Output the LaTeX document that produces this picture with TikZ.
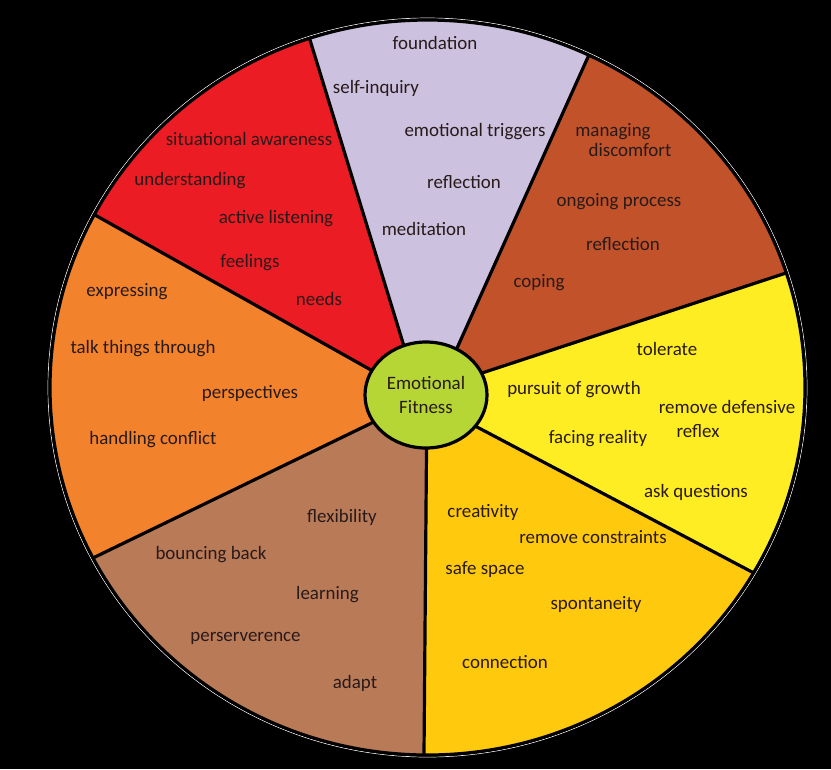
\documentclass[tikz,border=0pt]{standalone}
\usepackage{fontspec}
\setmainfont{Carlito}
\usetikzlibrary{calc,shapes.geometric}
\definecolor{lavender}{RGB}{204,193,222}
\definecolor{rustred}{RGB}{193,82,41}
\definecolor{sunyellow}{RGB}{255,237,36}
\definecolor{goldyellow}{RGB}{255,201,14}
\definecolor{clay}{RGB}{185,122,87}
\definecolor{tangerine}{RGB}{243,130,45}
\definecolor{signalred}{RGB}{236,28,36}
\definecolor{limegreen}{RGB}{181,214,52}
\definecolor{inktext}{RGB}{40,26,26}

\begin{document}
\begin{tikzpicture}[x=0.75pt,y=-0.75pt,
  word/.style={font=\fontsize{14.2}{17.5}\selectfont,text=inktext,inner sep=0pt,
               text height=10.8pt,text depth=0.8pt},
  spoke/.style={line width=2.4pt},
  hubnode/.style={ellipse,draw,line width=2.4pt,fill=limegreen,minimum width=91.5pt,
                  minimum height=79.5pt,align=center,inner sep=0pt,text=inktext,
                  font=\fontsize{14.2}{17.5}\selectfont}
]
  % background
  \fill[black] (0,0) rectangle (831,769);
  \coordinate (c) at (427.5,387.5);
  \coordinate (hubc) at (426,395);

  % spokes: rim end and hub end
  \coordinate (o1) at (310,40);    \coordinate (i1) at (407.4,357.3);
  \coordinate (o2) at (588,57);    \coordinate (i2) at (451.8,359.7);
  \coordinate (o3) at (783,274);   \coordinate (i3) at (467.7,377.7);
  \coordinate (o4) at (752,572);   \coordinate (i4) at (463.7,420);
  \coordinate (o5) at (424,754);   \coordinate (i5) at (426.7,426);
  \coordinate (o6) at (95,557);    \coordinate (i6) at (387.1,415.5);
  \coordinate (o7) at (95,215);    \coordinate (i7) at (384.1,377.4);

  % sectors
  \begin{scope}
    \clip (c) ellipse [x radius=377.5, y radius=367.5];
    \foreach \a/\b/\col in {1/2/lavender,2/3/rustred,3/4/sunyellow,4/5/goldyellow,
                            5/6/clay,6/7/tangerine,7/1/signalred}
      \fill[\col] (hubc) -- (i\a) -- ($(i\a)!1.6!(o\a)$) -- ($(i\b)!1.6!(o\b)$) -- (i\b) -- cycle;
    \foreach \k in {1,...,7}
      \draw[spoke] (i\k) -- ($(i\k)!1.1!(o\k)$);
  \end{scope}
  \draw[white,line width=0.5pt] (c) ellipse [x radius=379.5, y radius=369.5];
  \draw[line width=2.4pt] (c) ellipse [x radius=377.5, y radius=367.5];

  % hub
  \node[hubnode] (hub) at (hubc) {Emotional\\Fitness};

  % words
  \foreach \x/\y/\t [count=\k] in {435/42.7/foundation, 376/87.3/self-inquiry,
      475/129.5/emotional triggers, 464/181.5/reflection, 424/228.5/meditation}
    \node[word] (lav\k) at (\x,\y) {\t};
  \foreach \x/\y/\t [count=\k] in {613/129.5/managing, 630/149.6/discomfort,
      619/200/ongoing process, 623/244/reflection, 539/281/coping}
    \node[word] (rust\k) at (\x,\y) {\t};
  \foreach \x/\y/\t [count=\k] in {667/349/tolerate, 574/388/pursuit of growth,
      727/407/remove defensive, 698/430.6/reflex, 598/436.5/facing reality,
      696/491/ask questions}
    \node[word] (sun\k) at (\x,\y) {\t};
  \foreach \x/\y/\t [count=\k] in {483/510.5/creativity, 593/537/remove constraints,
      485/568/safe space, 596/603/spontaneity, 505/662/connection}
    \node[word] (gold\k) at (\x,\y) {\t};
  \foreach \x/\y/\t [count=\k] in {342/516/flexibility, 211/553/bouncing back,
      327.5/592.5/learning, 245.5/635/perserverence, 355/682/adapt}
    \node[word] (clay\k) at (\x,\y) {\t};
  \foreach \x/\y/\t [count=\k] in {127/290/expressing, 143/347/talk things through,
      250/392/perspectives, 153/437.5/handling conflict}
    \node[word] (tang\k) at (\x,\y) {\t};
  \foreach \x/\y/\t [count=\k] in {249/139/situational awareness, 190/178.5/understanding,
      276/216.8/active listening, 250/261/feelings, 319/298.7/needs}
    \node[word] (red\k) at (\x,\y) {\t};
\end{tikzpicture}
\end{document}
